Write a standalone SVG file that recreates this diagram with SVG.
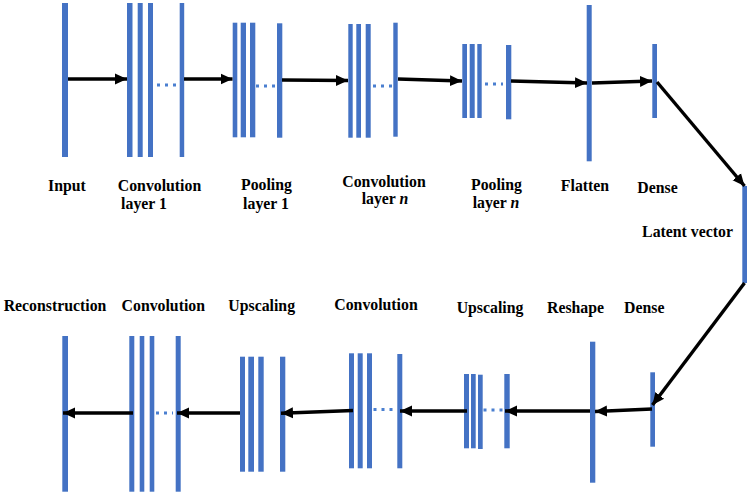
<svg xmlns="http://www.w3.org/2000/svg" width="750" height="495" viewBox="0 0 750 495">
<defs>
<style>
.b{fill:#4472C4}
.d{stroke:#4A7FD0;stroke-width:2.8;stroke-dasharray:3 5;fill:none}
.a{stroke:#000;stroke-width:3.4;fill:none;marker-end:url(#ah)}
.t{font-family:"Liberation Serif","Times New Roman",serif;font-weight:bold;font-size:15.8px;fill:#000;text-anchor:middle}
.i{font-style:italic}
</style>
<marker id="ah" markerUnits="userSpaceOnUse" markerWidth="14" markerHeight="14" viewBox="0 0 14 14" refX="12" refY="7" orient="auto">
<path d="M0,1.5 L12,7 L0,12.5 z" fill="#000"/>
</marker>
</defs>
<rect width="750" height="495" fill="#fff"/>

<g id="input">
<rect class="b" x="62" y="3" width="6" height="154"/>
<text class="t" x="67" y="191">Input</text>
</g>
<g id="conv1">
<rect class="b" x="127" y="3" width="5.5" height="154"/>
<rect class="b" x="137.7" y="3" width="5" height="154"/>
<rect class="b" x="148" y="3" width="5" height="154"/>
<rect class="b" x="179.7" y="3" width="4.5" height="154"/>
<line class="d" x1="157" y1="85" x2="176" y2="85"/>
<text class="t" x="159.5" y="191">Convolution</text>
<text class="t" x="144" y="209">layer 1</text>
</g>
<g id="pool1">
<rect class="b" x="232.7" y="22.7" width="4.6" height="114.6"/>
<rect class="b" x="240.7" y="22.7" width="5.3" height="114.6"/>
<rect class="b" x="250" y="22.7" width="5.3" height="114.6"/>
<rect class="b" x="277" y="23.3" width="5.3" height="114.4"/>
<line class="d" x1="256" y1="86" x2="275" y2="86"/>
<text class="t" x="266.5" y="190">Pooling</text>
<text class="t" x="266" y="209">layer 1</text>
</g>
<g id="convn">
<rect class="b" x="348.3" y="24" width="4.4" height="113.7"/>
<rect class="b" x="356.3" y="24" width="4.7" height="113.7"/>
<rect class="b" x="365.7" y="24" width="5" height="113.7"/>
<rect class="b" x="393.3" y="22.7" width="4.4" height="114"/>
<line class="d" x1="373" y1="86" x2="392" y2="86"/>
<text class="t" x="384" y="187">Convolution</text>
<text class="t" x="385" y="204">layer <tspan class="i">n</tspan></text>
</g>
<g id="pooln">
<rect class="b" x="462.3" y="44" width="4.7" height="74"/>
<rect class="b" x="469.7" y="44" width="5" height="74"/>
<rect class="b" x="477.3" y="44" width="4.4" height="74"/>
<rect class="b" x="506" y="45" width="5.3" height="74.3"/>
<line class="d" x1="485" y1="84" x2="503" y2="84"/>
<text class="t" x="496.5" y="190">Pooling</text>
<text class="t" x="496" y="208">layer <tspan class="i">n</tspan></text>
</g>
<g id="flatten">
<rect class="b" x="586.7" y="5" width="5" height="156.3"/>
<text class="t" x="585" y="191">Flatten</text>
</g>
<g id="dense1">
<rect class="b" x="652.3" y="44" width="4.7" height="74"/>
<text class="t" x="657.5" y="193">Dense</text>
</g>
<g id="latent">
<rect class="b" x="742.3" y="186" width="4.7" height="97"/>
<text class="t" x="687.5" y="237">Latent vector</text>
</g>

<g id="dense2">
<rect class="b" x="650.3" y="372.3" width="4.7" height="74.4"/>
<text class="t" x="644.3" y="313">Dense</text>
</g>
<g id="reshape">
<rect class="b" x="590" y="341.7" width="5.3" height="141"/>
<text class="t" x="575.5" y="313">Reshape</text>
</g>
<g id="upscale1">
<rect class="b" x="464" y="374" width="5" height="74.3"/>
<rect class="b" x="471" y="374" width="4.7" height="74.3"/>
<rect class="b" x="478" y="374.7" width="4.7" height="74.3"/>
<rect class="b" x="504.3" y="374" width="5.4" height="74.3"/>
<line class="d" x1="483.5" y1="410" x2="503" y2="410"/>
<text class="t" x="490" y="313">Upscaling</text>
</g>
<g id="convb1">
<rect class="b" x="349" y="353.3" width="5" height="115"/>
<rect class="b" x="357.7" y="353.3" width="5" height="115"/>
<rect class="b" x="367" y="353.3" width="5" height="115"/>
<rect class="b" x="397.3" y="354" width="5" height="114.3"/>
<line class="d" x1="373.5" y1="409.5" x2="393" y2="409.5"/>
<text class="t" x="376" y="310">Convolution</text>
</g>
<g id="upscale2">
<rect class="b" x="240" y="356.7" width="5" height="115"/>
<rect class="b" x="248.3" y="356.7" width="5.7" height="115"/>
<rect class="b" x="258.3" y="356.7" width="5.4" height="115"/>
<rect class="b" x="280" y="356.7" width="5.3" height="115"/>
<text class="t" x="261.7" y="311">Upscaling</text>
</g>
<g id="convb2">
<rect class="b" x="129.3" y="336" width="5" height="155.7"/>
<rect class="b" x="139.7" y="336" width="4.6" height="155.7"/>
<rect class="b" x="149.7" y="336" width="4.6" height="155.7"/>
<rect class="b" x="175.7" y="336" width="5" height="155.7"/>
<line class="d" x1="156" y1="413" x2="173" y2="413"/>
<text class="t" x="163.3" y="311">Convolution</text>
</g>
<g id="reconstruction">
<rect class="b" x="62.3" y="336" width="5.7" height="155.7"/>
<text class="t" x="55" y="311">Reconstruction</text>
</g>

<g id="connectors">
<line class="a" x1="68" y1="79" x2="127" y2="79"/>
<line class="a" x1="184" y1="79" x2="232.5" y2="79"/>
<line class="a" x1="282" y1="80" x2="348" y2="80.5"/>
<line class="a" x1="398" y1="79" x2="462" y2="81"/>
<line class="a" x1="511" y1="81" x2="587" y2="83"/>
<line class="a" x1="592" y1="83" x2="652" y2="81"/>
<line class="a" x1="657" y1="82" x2="744.5" y2="186"/>
<line class="a" x1="744.5" y1="283" x2="652.5" y2="405"/>
<line class="a" x1="652" y1="409" x2="595" y2="411.5"/>
<line class="a" x1="590" y1="411" x2="505" y2="411"/>
<line class="a" x1="467" y1="411" x2="400" y2="411"/>
<line class="a" x1="353" y1="410.5" x2="281" y2="413.3"/>
<line class="a" x1="240" y1="413" x2="177" y2="413"/>
<line class="a" x1="133" y1="413" x2="63" y2="413"/>
</g>
</svg>
